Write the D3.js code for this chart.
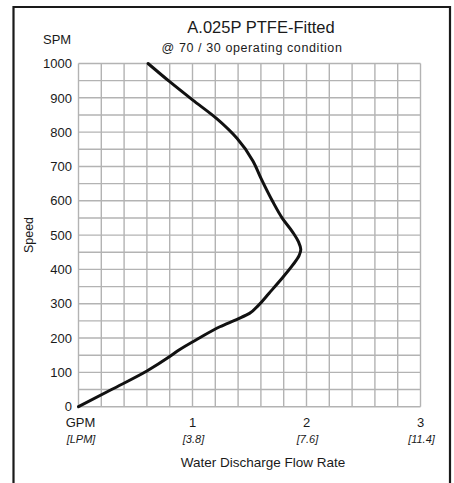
<!DOCTYPE html>
<html>
<head>
<meta charset="utf-8">
<script src="https://cdn.jsdelivr.net/npm/d3@7"></script>
<style>
  body { margin: 0; background: #fff; }
  text { font-family: "Liberation Sans", Arial, sans-serif; fill: #1a1a1a; }
</style>
</head>
<body>
<script>
// curve: [GPM, SPM]
var flowGPM = [0, 0.29, 0.6, 0.8, 0.885, 1.06, 1.24, 1.4, 1.5, 1.58, 1.67, 1.78, 1.88, 1.935, 1.95, 1.93, 1.88, 1.79, 1.7, 1.6, 1.53, 1.39, 1.21, 1.0, 0.8, 0.61];
var speedSPM = [0, 50, 104, 146, 166, 200, 233, 256, 272, 296, 330, 372, 413, 440, 458, 480, 508, 548, 600, 666, 716, 782, 840, 894, 947, 1000];

var yTicks = [0, 100, 200, 300, 400, 500, 600, 700, 800, 900, 1000];
var xTicks = [0, 1, 2, 3];
var xTickLabels = ["GPM", "1", "2", "3"];
var lpmLabels = ["[LPM]", "[3.8]", "[7.6]", "[11.4]"];

var W = 454, H = 483;
var svg = d3.select("body").append("svg")
    .attr("width", W)
    .attr("height", H);

// outer frame (no bottom edge visible)
svg.append("path")
    .attr("d", "M13.5,490 V7 H450 V490")
    .attr("fill", "none")
    .attr("stroke", "#1a1a1a")
    .attr("stroke-width", 2.2);

var x = d3.scaleLinear().domain([0, 3]).range([78.5, 420.5]);
var y = d3.scaleLinear().domain([0, 1000]).range([406.7, 63.5]);

// grid: 15 columns (0.2 GPM) and 20 rows (50 SPM)
var g = svg.append("g");
g.selectAll(".vgrid")
    .data(d3.range(0, 16))
    .enter().append("line")
    .attr("x1", function(d) { return x(d * 0.2); })
    .attr("x2", function(d) { return x(d * 0.2); })
    .attr("y1", y(0))
    .attr("y2", y(1000))
    .attr("stroke", "#b3b3b3")
    .attr("stroke-width", 1.4);
g.selectAll(".hgrid")
    .data(d3.range(0, 21))
    .enter().append("line")
    .attr("y1", function(d) { return y(d * 50); })
    .attr("y2", function(d) { return y(d * 50); })
    .attr("x1", x(0))
    .attr("x2", x(3))
    .attr("stroke", "#b3b3b3")
    .attr("stroke-width", 1.4);

// y tick labels
svg.selectAll(".ytick")
    .data(yTicks)
    .enter().append("text")
    .attr("x", 72)
    .attr("y", function(d) { return y(d); })
    .attr("dy", "0.36em")
    .attr("text-anchor", "end")
    .attr("font-size", 13)
    .text(function(d) { return d; });

// x tick labels
svg.selectAll(".xtick")
    .data(xTicks)
    .enter().append("text")
    .attr("x", function(d) { return x(d) + (d === 0 ? 2 : 0); })
    .attr("y", 427)
    .attr("text-anchor", "middle")
    .attr("font-size", 13)
    .text(function(d, i) { return xTickLabels[i]; });

svg.selectAll(".lpm")
    .data(xTicks)
    .enter().append("text")
    .attr("x", function(d) { return x(d) + (d === 0 ? 2.5 : 1); })
    .attr("y", 443)
    .attr("text-anchor", "middle")
    .attr("font-size", 11)
    .attr("font-style", "italic")
    .text(function(d, i) { return lpmLabels[i]; });

// the curve (speed rises steadily along it, so x is a function of y)
var pts = flowGPM.map(function(v, i) { return [v, speedSPM[i]]; });
var line = d3.line()
    .x(function(d) { return x(d[0]); })
    .y(function(d) { return y(d[1]); })
    .curve(d3.curveMonotoneY);
svg.append("path")
    .datum(pts)
    .attr("d", line)
    .attr("fill", "none")
    .attr("stroke", "#111")
    .attr("stroke-width", 3)
    .attr("stroke-linecap", "round");

// titles and axis names
svg.append("text")
    .attr("x", 261).attr("y", 33)
    .attr("text-anchor", "middle")
    .attr("font-size", 16.5)
    .text("A.025P PTFE-Fitted");
svg.append("text")
    .attr("x", 252).attr("y", 52)
    .attr("text-anchor", "middle")
    .attr("font-size", 12.5)
    .attr("letter-spacing", 0.6)
    .text("@ 70 / 30 operating condition");
svg.append("text")
    .attr("x", 43).attr("y", 44)
    .attr("font-size", 13)
    .text("SPM");
svg.append("text")
    .attr("transform", "translate(33,235) rotate(-90)")
    .attr("text-anchor", "middle")
    .attr("font-size", 12.5)
    .text("Speed");
svg.append("text")
    .attr("x", 263).attr("y", 467)
    .attr("text-anchor", "middle")
    .attr("font-size", 13.5)
    .text("Water Discharge Flow Rate");
</script>
</body>
</html>
